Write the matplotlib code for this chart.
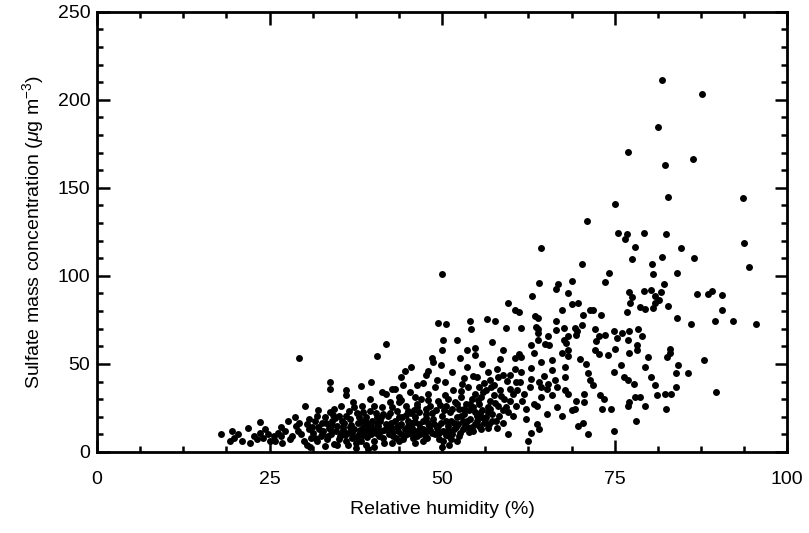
import matplotlib
matplotlib.use('Agg')
import matplotlib.pyplot as plt
from matplotlib.ticker import MultipleLocator

plt.rcParams['font.family'] = ['Liberation Sans', 'DejaVu Sans']
plt.rcParams['mathtext.fontset'] = 'custom'
plt.rcParams['mathtext.rm'] = 'Liberation Sans'
plt.rcParams['mathtext.it'] = 'Liberation Sans:italic'

# (相对湿度 %, 硫酸盐 ug/m3) —— 高值稀疏区
pts_upper = [
    (81.9, 211.3), (87.6, 203.3), (81.3, 184.6), (77.0, 170.4), (86.3, 166.3),
    (82.3, 163.1), (82.8, 144.6), (93.6, 144.2), (75.1, 140.6), (71.0, 131.0),
    (75.5, 124.6), (76.8, 123.5), (79.3, 124.2), (82.4, 123.5), (76.5, 120.8),
    (77.9, 116.3), (64.3, 115.6), (84.6, 115.8), (93.7, 118.8), (77.5, 109.4),
    (81.9, 110.6), (86.5, 110.0), (70.2, 106.7), (80.4, 107.0), (94.5, 105.2),
    (50.0, 101.3), (74.2, 101.9), (80.5, 101.3), (84.1, 101.7), (73.6, 96.5),
    (64.0, 96.0), (66.8, 95.4), (68.8, 97.1), (82.2, 95.2), (66.5, 92.5),
    (68.2, 90.4), (77.1, 90.8), (79.2, 91.2), (80.3, 92.1), (81.7, 90.8),
    (77.5, 87.9), (80.9, 88.8), (86.9, 89.6), (89.1, 91.2), (88.5, 89.8),
    (90.6, 89.2), (63.0, 88.3), (81.4, 86.5), (80.8, 84.4), (77.2, 84.4),
    (59.6, 84.4), (68.8, 83.8), (69.7, 84.4), (78.7, 82.1), (80.6, 81.7),
    (82.8, 83.1), (79.4, 81.2), (60.5, 80.6), (61.1, 79.6), (67.3, 80.6),
    (70.4, 77.9), (71.5, 80.6), (71.9, 80.8), (73.0, 77.7), (76.8, 79.6),
    (90.5, 80.6), (84.0, 76.3), (92.1, 74.4), (89.5, 74.4), (86.0, 72.5),
    (95.5, 72.9), (56.5, 75.4), (57.7, 74.4), (54.1, 74.2), (49.4, 73.5),
    (50.5, 72.5), (63.4, 77.3), (63.9, 76.0), (66.5, 74.4), (70.3, 72.1),
    (63.6, 71.2), (63.9, 69.6), (66.5, 69.2), (67.7, 70.2), (69.3, 70.6),
    (69.6, 68.7), (72.2, 69.6), (74.9, 68.7), (76.0, 67.7), (77.1, 68.7),
    (78.4, 69.6), (59.3, 70.6), (61.4, 70.6), (54.2, 69.6), (63.9, 67.7),
    (65.3, 65.8), (68.2, 65.8), (69.4, 66.7), (72.7, 65.8), (73.6, 66.7),
    (78.9, 65.8), (75.3, 64.8), (52.1, 63.8), (50.2, 63.8), (63.9, 63.8),
    (67.6, 63.8), (76.9, 63.8), (68.0, 61.9), (72.3, 63.3), (64.9, 61.5),
    (65.5, 61.0), (62.9, 61.0), (41.9, 61.5), (57.2, 62.3), (78.3, 61.0),
    (72.1, 58.1), (75.1, 58.5), (83.0, 58.5), (78.3, 58.1), (68.2, 58.1),
    (54.7, 59.0), (53.6, 58.1), (50.0, 58.1), (58.8, 58.1), (67.3, 56.2),
    (77.1, 56.2), (72.7, 55.6), (74.0, 55.2), (83.0, 56.2), (63.3, 56.2),
    (61.1, 55.8), (79.8, 54.2), (82.6, 53.8), (88.0, 52.3), (68.2, 54.6),
    (54.7, 55.2), (52.6, 53.3), (48.5, 53.3), (60.5, 53.3), (61.4, 53.8),
    (58.4, 52.7), (64.4, 51.3), (65.9, 52.3), (70.0, 52.7), (40.5, 54.6),
    (29.2, 53.3), (48.7, 51.3), (49.8, 49.4), (55.8, 50.0), (70.8, 50.0),
    (75.9, 49.4), (84.2, 49.4), (79.4, 48.5), (45.5, 48.5), (53.6, 48.5),
    (67.8, 48.1), (62.9, 47.5), (60.5, 46.9), (44.6, 46.2), (47.9, 46.2),
    (74.9, 45.6), (83.9, 45.0), (85.6, 44.6), (51.5, 45.6), (56.6, 45.6),
    (47.6, 43.7), (71.2, 44.6), (64.8, 43.1), (67.8, 42.7), (76.3, 42.3),
    (80.3, 42.7), (44.0, 42.7), (58.1, 42.7), (54.5, 43.1), (59.9, 43.7),
    (62.9, 41.7), (71.4, 40.8), (77.0, 40.8), (77.8, 38.8), (60.7, 39.8),
    (56.0, 39.2), (57.5, 37.9), (52.9, 38.8), (50.4, 39.8), (39.7, 39.8),
    (33.7, 39.8), (38.2, 37.3), (46.4, 37.9), (71.9, 37.9), (66.7, 36.9),
    (64.4, 36.9), (83.9, 36.9), (80.9, 37.9), (65.2, 36.0), (33.8, 36.0),
    (41.3, 34.0), (43.1, 36.0), (55.4, 36.9), (59.8, 36.0), (60.9, 35.0),
    (89.7, 34.0), (82.3, 33.1), (83.2, 33.1), (77.9, 31.5), (78.7, 31.5),
    (72.9, 32.1), (70.6, 33.1), (67.8, 35.0), (81.1, 32.1), (64.4, 31.2),
    (65.9, 32.1), (68.3, 33.1), (69.4, 29.2), (70.6, 28.3), (73.4, 30.2),
    (77.1, 28.3), (79.4, 26.3), (82.4, 24.4), (77.0, 26.3), (73.1, 24.4),
    (74.5, 24.4), (68.8, 23.8), (69.2, 24.4), (66.7, 25.4), (67.4, 20.6),
    (70.4, 16.7), (78.1, 17.7), (69.7, 14.8), (74.9, 11.9), (71.2, 10.0),
    (62.4, 6.2), (59.6, 10.0), (65.2, 21.5), (63.7, 15.8), (64.1, 12.9),
    (62.9, 11.0), (62.2, 18.7), (60.3, 20.6), (59.6, 22.5), (56.8, 15.8),
    (57.9, 13.8), (56.6, 13.8), (58.8, 16.7),
    (59.8, 29.2), (60.7, 26.3), (61.6, 29.2), (62.2, 24.4), (63.3, 27.3),
    (61.8, 33.1), (62.8, 36.9), (64.0, 39.8), (65.3, 38.8), (66.3, 40.8),
    (61.3, 39.8), (63.7, 26.3), (61.4, 45.6), (58.8, 43.7), (56.9, 40.8),
    (65.9, 46.5),
]

# 低值密集区
pts_lower = [
    (18.0, 10.0), (19.3, 6.5), (19.5, 11.9), (20.4, 10.0), (21.0, 6.2),
    (21.9, 13.8), (22.1, 5.2), (22.8, 9.0), (23.6, 11.0), (23.6, 17.1),
    (24.1, 8.1), (24.7, 10.0), (25.1, 6.5), (25.8, 6.2), (26.6, 9.0),
    (26.6, 14.2), (26.8, 5.2), (27.3, 11.9), (27.9, 7.1), (28.3, 9.0),
    (28.7, 19.6), (28.8, 14.8), (29.1, 11.9), (29.6, 10.0), (30.0, 6.5),
    (30.1, 26.3), (30.4, 3.8), (30.4, 15.8), (30.7, 12.9), (31.0, 8.1),
    (31.3, 11.0), (31.6, 17.7), (31.8, 6.2), (32.0, 14.2), (32.0, 23.8),
    (32.4, 9.0), (32.6, 16.2), (32.8, 11.9), (33.0, 19.6), (33.3, 7.1),
    (33.6, 13.8), (33.9, 10.0), (34.1, 17.7), (34.3, 24.4), (34.4, 4.6),
    (34.6, 11.9), (34.8, 14.8), (35.1, 20.4), (35.2, 9.0), (35.4, 26.3),
    (35.6, 12.3), (35.8, 16.7), (36.0, 6.2), (36.1, 35.0), (36.1, 32.1),
    (36.3, 11.0), (36.6, 14.2), (36.7, 18.7), (36.9, 8.1), (37.1, 28.3),
    (37.3, 12.9), (37.5, 5.2), (37.6, 22.3), (37.8, 16.2), (38.0, 10.0),
    (38.2, 6.5), (38.4, 26.3), (38.6, 14.2), (38.8, 11.9), (39.0, 19.6),
    (39.1, 8.5), (39.3, 1.9), (39.4, 15.8), (39.6, 30.2), (39.7, 10.0),
    (39.9, 17.7), (40.1, 6.2), (40.3, 12.9), (40.4, 22.3), (40.7, 14.8),
    (40.8, 9.0), (41.0, 17.7), (41.2, 11.9), (41.3, 25.4), (41.6, 5.2),
    (41.8, 33.1), (41.9, 15.8), (42.1, 20.4), (42.3, 10.0), (42.5, 28.3),
    (42.7, 13.5), (42.8, 36.0), (43.1, 17.7), (43.3, 8.1), (43.4, 23.5),
    (43.6, 11.9), (43.8, 31.2), (44.0, 15.8), (44.2, 19.8), (44.3, 7.1),
    (44.6, 12.9), (44.8, 26.3), (44.9, 10.0), (45.1, 17.7), (45.3, 34.0),
    (45.5, 22.3), (45.7, 13.8), (45.8, 8.1), (46.1, 19.6), (46.3, 11.9),
    (46.4, 25.4), (46.6, 15.8), (46.8, 10.0), (47.0, 30.2), (47.2, 17.7),
    (47.3, 12.9), (47.6, 21.5), (47.8, 8.1), (47.9, 33.1), (48.1, 14.8),
    (48.3, 26.3), (48.5, 11.0), (48.7, 18.7), (48.9, 36.9), (49.1, 23.8),
    (49.3, 13.8), (49.4, 29.2), (49.6, 7.1), (49.8, 16.7), (50.0, 20.6),
    (50.2, 11.9), (50.4, 32.1), (50.6, 26.3), (50.8, 14.8), (51.0, 9.0),
    (51.1, 22.5), (51.3, 17.7), (51.6, 35.0), (51.7, 12.9), (51.8, 28.3),
    (52.1, 19.6), (52.3, 15.8), (52.4, 24.4), (52.6, 11.0), (52.8, 31.2),
    (53.0, 17.7), (53.2, 21.5), (53.4, 27.3), (53.6, 14.2), (53.8, 36.9),
    (53.9, 23.8), (54.1, 18.7), (54.3, 30.2), (54.5, 25.4), (54.7, 15.8),
    (54.8, 33.1), (55.1, 20.6), (55.3, 27.3), (55.4, 14.8), (55.7, 31.2),
    (55.8, 23.8), (56.2, 18.7), (56.4, 35.0), (56.6, 25.4), (56.9, 29.2),
    (57.3, 21.5), (57.5, 32.1), (57.8, 17.7), (58.1, 26.3), (58.4, 35.0),
    (58.8, 23.8), (59.0, 30.2),
    (30.9, 2.7), (33.1, 3.3), (34.8, 4.2), (36.4, 3.8), (37.5, 2.3),
    (39.0, 4.2), (40.1, 2.7), (42.7, 5.2), (43.8, 6.2), (46.1, 5.2),
    (47.2, 6.2), (50.2, 6.2), (51.3, 7.1), (52.1, 6.2), (51.0, 4.2),
    (50.0, 2.7), (31.6, 7.7), (32.6, 10.4), (33.7, 12.9), (35.4, 10.4),
    (35.7, 14.2), (37.0, 11.0), (38.1, 12.3), (39.2, 13.5), (40.4, 11.0),
    (41.6, 12.3), (42.8, 11.0), (44.0, 10.0), (45.3, 11.5), (46.4, 9.0),
    (47.6, 11.9), (48.9, 10.0), (34.5, 19.2), (36.1, 20.6), (38.2, 17.7),
    (39.7, 14.8), (41.2, 19.6), (42.6, 16.7), (43.8, 14.8), (45.7, 16.7),
    (46.8, 13.8), (47.9, 16.7), (49.4, 14.8), (50.6, 17.7), (51.7, 16.7),
    (52.8, 20.6), (53.6, 17.7), (54.7, 22.5), (55.6, 19.6), (56.6, 22.5),
    (57.3, 17.7), (54.5, 11.9), (53.0, 12.9), (55.6, 12.9), (37.2, 25.4),
    (38.6, 22.5), (40.1, 26.3), (42.7, 25.4), (43.8, 28.3), (45.0, 23.5),
    (46.3, 27.3), (47.6, 24.4), (33.7, 22.5), (30.7, 18.7), (29.2, 16.7),
    (27.7, 17.7), (26.2, 11.0), (24.3, 12.9), (23.2, 7.1), (19.8, 8.1),
    (25.7, 9.0),
]

# 密集带里补充读出的点
pts_extra = [
    (32.2, 12.8), (33.4, 9.2), (34.0, 15.6), (35.0, 7.4), (35.9, 9.8),
    (36.8, 15.4), (37.7, 8.6), (38.5, 9.6), (39.5, 11.8), (40.6, 16.4),
    (41.4, 8.0), (42.0, 13.4), (42.9, 8.8), (43.5, 14.0), (44.5, 9.2),
    (45.0, 14.6), (45.6, 10.2), (46.0, 16.8), (46.9, 12.0), (47.5, 9.6),
    (48.2, 12.4), (48.8, 15.8), (49.5, 10.6), (50.5, 9.6), (50.9, 12.6),
    (51.5, 10.4), (52.0, 14.4), (52.5, 9.0), (53.3, 15.6), (53.9, 11.4),
    (54.4, 14.0), (55.0, 17.4), (55.5, 22.0), (56.0, 16.2), (56.4, 20.0),
    (57.0, 24.4), (57.6, 27.8), (58.2, 20.6), (58.6, 31.6), (59.3, 25.6),
    (55.2, 29.4), (54.0, 27.0), (53.1, 24.6), (52.2, 27.0), (51.4, 24.2),
    (50.3, 23.6), (49.7, 26.6), (48.6, 22.0), (47.7, 19.2), (46.7, 22.6),
    (45.9, 24.0), (44.7, 21.2), (43.7, 20.0), (42.4, 22.4), (41.5, 21.6),
    (40.5, 19.8), (39.6, 23.4), (38.9, 16.8), (37.9, 19.8), (36.5, 23.4),
    (35.5, 17.8), (34.2, 21.0), (33.2, 16.2), (31.9, 20.4), (31.2, 14.4),
    (48.0, 29.8), (46.0, 31.4), (44.1, 29.4), (50.9, 30.0), (52.7, 34.6),
    (55.9, 33.8), (57.1, 37.0), (49.2, 40.6), (47.2, 39.4), (44.4, 38.2),
    (53.2, 41.8), (55.0, 42.4), (57.9, 47.4), (59.4, 40.2), (60.2, 32.8),
]

all_pts = pts_upper + pts_lower + pts_extra
rh = [p[0] for p in all_pts]
so4 = [p[1] for p in all_pts]

fig = plt.figure(figsize=(8.09, 5.33), dpi=100)
ax = fig.add_axes([0.12, 0.152, 0.853, 0.826])
ax.plot(rh, so4, 'o', color='black', markersize=5.0, markeredgewidth=0)

ax.set_xlim(0, 100)
ax.set_ylim(0, 250)
ax.xaxis.set_major_locator(MultipleLocator(25))
ax.xaxis.set_minor_locator(MultipleLocator(6.25))
ax.yaxis.set_major_locator(MultipleLocator(50))
ax.yaxis.set_minor_locator(MultipleLocator(10))
ax.tick_params(which='both', direction='in', top=True, right=True,
               width=1.8, labelsize=14)
ax.tick_params(which='major', length=9)
ax.tick_params(which='minor', length=4.5)
ax.tick_params(axis='x', which='major', pad=14)
ax.tick_params(axis='y', which='major', pad=5)
for s in ax.spines.values():
    s.set_linewidth(2.0)

ax.set_xlabel('Relative humidity (%)', fontsize=14, labelpad=9)
ax.set_ylabel(r'Sulfate mass concentration ($\mu$g m$^{-3}$)', fontsize=14, labelpad=8)

plt.savefig('out.png', dpi=100, facecolor='white')
